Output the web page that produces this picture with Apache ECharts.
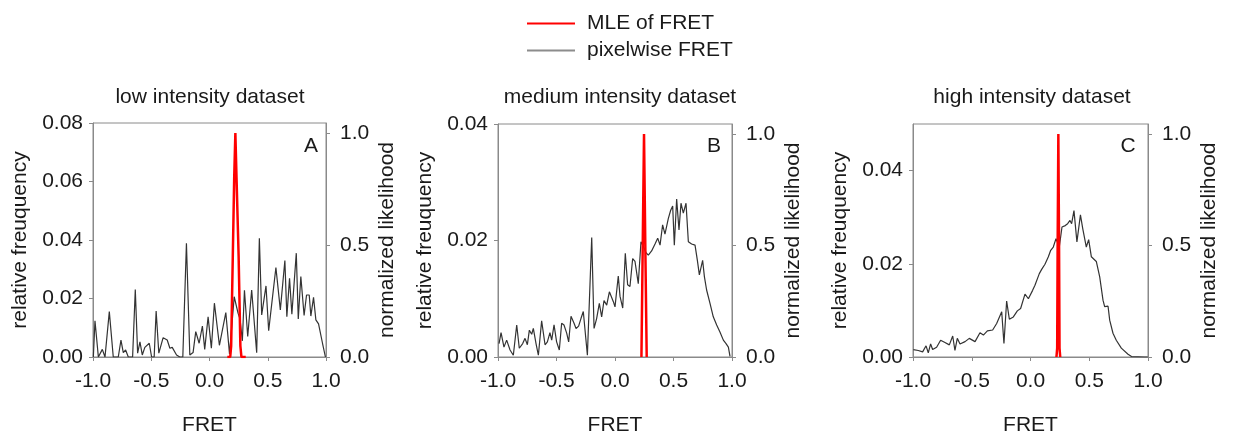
<!DOCTYPE html>
<html><head><meta charset="utf-8">
<script src="https://cdn.jsdelivr.net/npm/echarts@6/dist/echarts.min.js"></script>
<style>html,body{margin:0;padding:0;background:#fff}#c{width:1235px;height:436px}</style>
</head><body><div id="c"></div>
<script>
// ---------- data ----------
const panelTitles = ['low intensity dataset', 'medium intensity dataset', 'high intensity dataset'];
const panelLetters = ['A', 'B', 'C'];
const seriesNames = ['MLE of FRET', 'pixelwise FRET'];
const freqMax = [0.08, 0.04, 0.05];

// low intensity pixelwise FRET histogram
const lowX = [-0.997,-0.983,-0.954,-0.920,-0.897,-0.860,-0.826,-0.783,-0.760,-0.740,-0.720,-0.697,-0.660,-0.637,-0.617,-0.597,-0.577,-0.555,-0.517,-0.497,-0.475,-0.458,-0.435,-0.398,-0.363,-0.340,-0.320,-0.283,-0.255,-0.229,-0.198,-0.169,-0.141,-0.118,-0.089,-0.061,-0.041,-0.012,0.016,0.042,0.085,0.140,0.172,0.212,0.245,0.262,0.282,0.300,0.328,0.362,0.405,0.428,0.448,0.485,0.508,0.570,0.608,0.647,0.664,0.687,0.707,0.745,0.762,0.784,0.812,0.833,0.856,0.870,0.893,0.913,0.936,0.970,0.995];
const lowY = [0,0.0124,0,0.0026,0,0.0155,0,0,0.0058,0.0015,0.0024,0,0,0.0231,0.0013,0.0052,0.0007,0.0033,0.0047,0,0,0.0157,0.0013,0.0066,0.0058,0.0030,0.0033,0.0007,0,0,0.0389,0.0007,0.0015,0.0087,0.0047,0.0106,0.0026,0.0137,0.0030,0.0184,0.0040,0.0152,0.0010,0.0206,0.0150,0.0130,0.0055,0.0228,0.0070,0.0229,0.0015,0.0406,0.0144,0.0243,0.0090,0.0306,0.0161,0.0330,0.0138,0.0269,0.0146,0.0355,0.0130,0.0275,0.0142,0.0212,0.0212,0.0140,0.0204,0.0127,0.0113,0.0047,0];

// medium intensity pixelwise FRET histogram
const medX = [-0.991,-0.974,-0.949,-0.926,-0.897,-0.869,-0.840,-0.818,-0.789,-0.769,-0.749,-0.732,-0.712,-0.698,-0.675,-0.655,-0.627,-0.598,-0.578,-0.556,-0.541,-0.521,-0.499,-0.476,-0.456,-0.436,-0.413,-0.396,-0.376,-0.350,-0.333,-0.311,-0.291,-0.271,-0.236,-0.199,-0.179,-0.157,-0.134,-0.114,-0.094,-0.071,-0.048,-0.034,-0.014,0.000,0.028,0.043,0.066,0.088,0.108,0.128,0.151,0.171,0.199,0.222,0.242,0.265,0.285,0.313,0.342,0.365,0.385,0.407,0.427,0.456,0.476,0.493,0.507,0.527,0.547,0.564,0.584,0.607,0.627,0.655,0.684,0.704,0.721,0.749,0.764,0.783,0.812,0.840,0.869,0.897,0.926,0.949,0.969,0.983];
const medY = [0.0023,0.0042,0.0017,0.0029,0.0012,0.0003,0.0055,0.0015,0.0023,0.0032,0.0021,0.0046,0.0039,0.0049,0.0023,0.0003,0.0062,0.0021,0.0026,0.0042,0.0029,0.0055,0.0026,0.0012,0.0058,0.0055,0.0041,0.0026,0.0070,0.0058,0.0049,0.0053,0.0066,0.0078,0.0003,0.0205,0.0049,0.0066,0.0092,0.0069,0.0097,0.0089,0.0112,0.0115,0.0095,0.0086,0.0139,0.0104,0.0084,0.0178,0.0124,0.0121,0.0169,0.0164,0.0126,0.0198,0.0190,0.0179,0.0175,0.0182,0.0194,0.0204,0.0192,0.0227,0.0211,0.0238,0.0252,0.0259,0.0192,0.0271,0.0218,0.0264,0.0247,0.0264,0.0198,0.0194,0.0192,0.0166,0.0141,0.0166,0.0138,0.0115,0.0092,0.0069,0.0055,0.0043,0.0029,0.0023,0.0017,0.0001];

// high intensity pixelwise FRET histogram
const highX = [-0.997,-0.955,-0.918,-0.889,-0.870,-0.850,-0.833,-0.799,-0.765,-0.728,-0.691,-0.662,-0.643,-0.623,-0.600,-0.557,-0.521,-0.472,-0.430,-0.401,-0.367,-0.322,-0.288,-0.245,-0.226,-0.203,-0.180,-0.146,-0.112,-0.084,-0.047,-0.018,0.018,0.038,0.075,0.095,0.123,0.152,0.172,0.194,0.217,0.245,0.268,0.296,0.316,0.336,0.350,0.370,0.395,0.425,0.445,0.475,0.495,0.518,0.560,0.589,0.617,0.631,0.660,0.674,0.702,0.716,0.730,0.773,0.830,0.860,0.970,0.998];
const highY = [0.0016,0.0014,0.0011,0.0024,0.0009,0.0028,0.0016,0.0021,0.0036,0.0031,0.0026,0.0045,0.0014,0.0040,0.0028,0.0033,0.0040,0.0033,0.0052,0.0047,0.0056,0.0058,0.0072,0.0097,0.0029,0.0120,0.0081,0.0086,0.0099,0.0104,0.0135,0.0125,0.0143,0.0154,0.0179,0.0188,0.0199,0.0215,0.0229,0.0236,0.0254,0.0236,0.0279,0.0282,0.0286,0.0293,0.0286,0.0314,0.0247,0.0305,0.0275,0.0236,0.0252,0.0215,0.0205,0.0172,0.0122,0.0108,0.0109,0.0079,0.0051,0.0053,0.0036,0.0019,0.0006,0.0001,0,0];

// MLE of FRET (normalized likelihood)
const mleLowX = [0.153,0.178,0.186,0.200,0.212,0.222,0.232,0.250,0.265,0.274,0.311];
const mleLowY = [0,0,0.05,0.45,0.80,1.0,0.80,0.45,0.05,0,0];
const mleMedX = [0.226,0.237,0.248,0.259,0.271];
const mleMedY = [0,0.5,1.0,0.5,0];
const mleHighX = [0.221,0.227,0.231,0.237,0.243,0.247,0.253];
const mleHighY = [0,0.04,0.5,1.0,0.5,0.04,0];

// ---------- chart ----------
const pairs = (xs, ys) => xs.map((x, i) => [x, ys[i]]);
const blackData = [pairs(lowX, lowY), pairs(medX, medY), pairs(highX, highY)];
const redData = [pairs(mleLowX, mleLowY), pairs(mleMedX, mleMedY), pairs(mleHighX, mleHighY)];

const FONT = 'Liberation Sans, Arial, sans-serif';
const TXT = '#1a1a1a';
const AX = '#8a8a8a';
const grids = [
  {left: 93, top: 123, width: 233, height: 234},
  {left: 498, top: 124, width: 234, height: 233},
  {left: 913, top: 124, width: 235, height: 233}
];
const titleX = [210, 620, 1032];
const letterX = [311, 714, 1128];

const axisBase = {
  axisLine: {show: true, onZero: false, lineStyle: {color: AX, width: 1}},
  axisTick: {show: true, inside: false, length: 4, lineStyle: {color: AX}},
  splitLine: {show: false},
  nameTextStyle: {fontFamily: FONT, fontSize: 21, color: TXT},
};
const labelBase = {fontFamily: FONT, fontSize: 21, color: TXT};

const xAxis = [], yAxis = [], series = [], graphic = [];
grids.forEach((g, i) => {
  g.show = true; g.borderColor = AX; g.borderWidth = 1;
  g.containLabel = false; g.outerBoundsMode = 'none';
  xAxis.push(Object.assign({}, axisBase, {
    type: 'value', gridIndex: i, min: -1, max: 1, interval: 0.5,
    name: 'FRET', nameLocation: 'middle', nameGap: 58,
    axisLabel: Object.assign({}, labelBase, {margin: 14, formatter: v => v.toFixed(1)})
  }));
  yAxis.push(Object.assign({}, axisBase, {
    type: 'value', gridIndex: i, position: 'left', min: 0, max: freqMax[i], interval: 0.02,
    name: 'relative freuquency', nameLocation: 'middle', nameGap: 62, nameRotate: 90,
    axisLabel: Object.assign({}, labelBase, {margin: 10, showMaxLabel: i !== 2, formatter: v => v.toFixed(2)})
  }));
  yAxis.push(Object.assign({}, axisBase, {
    type: 'value', gridIndex: i, position: 'right', min: 0, max: 1.045, interval: 0.5,
    name: 'normalized likelihood', nameLocation: 'middle', nameGap: 51, nameRotate: 90,
    axisLabel: Object.assign({}, labelBase, {margin: 14, showMaxLabel: false, formatter: v => v.toFixed(1)})
  }));
  series.push({
    name: seriesNames[1], type: 'line', xAxisIndex: i, yAxisIndex: 2 * i,
    data: blackData[i], symbol: 'none', lineStyle: {color: '#333', width: 1.2}, itemStyle: {color: '#333'},
    z: 2, animation: false
  });
  series.push({
    name: seriesNames[0], type: 'line', xAxisIndex: i, yAxisIndex: 2 * i + 1,
    data: redData[i], symbol: 'none', lineStyle: {color: '#ff0000', width: 2.5}, itemStyle: {color: '#ff0000'},
    z: 3, animation: false
  });
  graphic.push({type: 'text', x: titleX[i], y: 97,
    style: {text: panelTitles[i], fontFamily: FONT, fontSize: 21, fill: TXT, textAlign: 'center', textVerticalAlign: 'middle'}});
  graphic.push({type: 'text', x: letterX[i], y: 146,
    style: {text: panelLetters[i], fontFamily: FONT, fontSize: 21, fill: TXT, textAlign: 'center', textVerticalAlign: 'middle'}});
});

const chart = echarts.init(document.getElementById('c'), null, {renderer: 'canvas'});
chart.setOption({
  animation: false,
  backgroundColor: '#fff',
  legend: {
    orient: 'vertical', left: 527, top: 13, padding: 0, itemWidth: 48, itemHeight: 2, itemGap: 6,
    textStyle: {fontFamily: FONT, fontSize: 21, color: TXT, padding: [0, 0, 0, 7]},
    data: [
      {name: seriesNames[0], icon: 'rect', itemStyle: {color: '#ff0000'}},
      {name: seriesNames[1], icon: 'rect', itemStyle: {color: '#8c8c8c'}}
    ]
  },
  grid: grids, xAxis: xAxis, yAxis: yAxis, series: series, graphic: graphic
});
</script></body></html>
